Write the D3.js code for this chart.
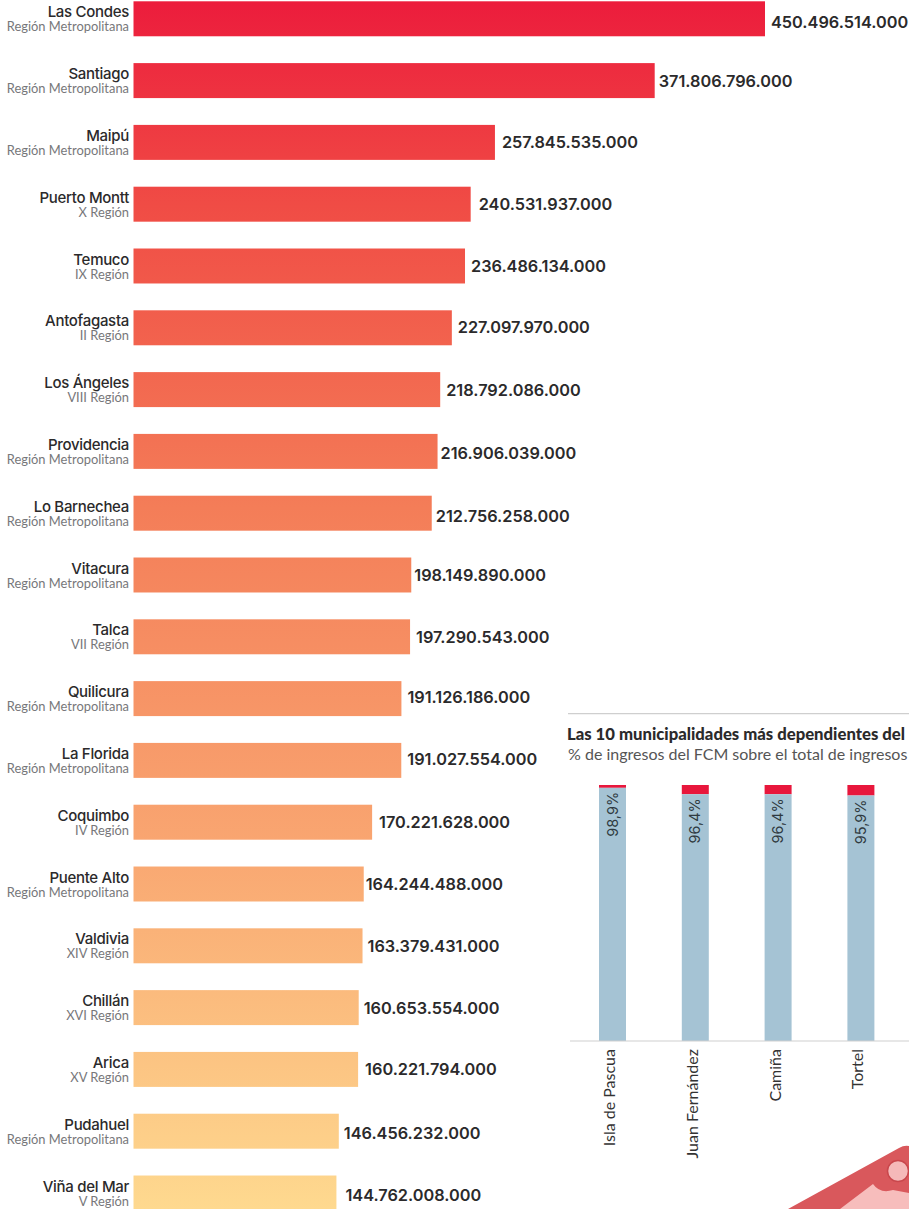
<!DOCTYPE html>
<html>
<head>
<meta charset="utf-8">
<script src="https://cdn.jsdelivr.net/npm/d3@7"></script>
<style>
  html, body { margin: 0; padding: 0; background: #fff; overflow: hidden; }
  svg { display: block; }
  text { font-family: Lato, "Open Sans", sans-serif; }
  .strong { font-family: Inter, Lato, sans-serif; }
</style>
</head>
<body>
<div id="chart"></div>
<script>
// ranking, in pesos
var communes = ["Las Condes", "Santiago", "Maipú", "Puerto Montt", "Temuco", "Antofagasta", "Los Ángeles", "Providencia", "Lo Barnechea", "Vitacura", "Talca", "Quilicura", "La Florida", "Coquimbo", "Puente Alto", "Valdivia", "Chillán", "Arica", "Pudahuel", "Viña del Mar"];
var regions = ["Región Metropolitana", "Región Metropolitana", "Región Metropolitana", "X Región", "IX Región", "II Región", "VIII Región", "Región Metropolitana", "Región Metropolitana", "Región Metropolitana", "VII Región", "Región Metropolitana", "Región Metropolitana", "IV Región", "Región Metropolitana", "XIV Región", "XVI Región", "XV Región", "Región Metropolitana", "V Región"];
var amounts = [450496514000, 371806796000, 257845535000, 240531937000, 236486134000, 227097970000, 218792086000, 216906039000, 212756258000, 198149890000, 197290543000, 191126186000, 191027554000, 170221628000, 164244488000, 163379431000, 160653554000, 160221794000, 146456232000, 144762008000];

// second chart: only these four fit in the frame
var dependent = ["Isla de Pascua", "Juan Fernández", "Camiña", "Tortel"];
var dependentPct = [98.9, 96.4, 96.4, 95.9];

// hand placement of the amount labels, the original is not regular
var labelGapX = [6, 4, 7, 8, 6, 6, 6, 3, 4, 3, 6, 6, 6, 7, 2, 5, 5, 7, 5, 9];
var labelGapY = [3, 0, 0, 0, 0, -1, 0, 2, 3, 0, 0, -2, -1, 0, 0, 0, 0, 0, 2, 2];

var width = 909, height = 1209;
var svg = d3.select("#chart").append("svg").attr("width", width).attr("height", height);

var nf = d3.formatLocale({ decimal: ",", thousands: ".", grouping: [3], currency: ["$", ""] }).format(",d");

// ---- main ranking
var x = d3.scaleLinear().domain([0, 450496514000]).range([133.5, 765]);
var y = d3.scaleBand().domain(communes).range([1.3, 1210.5]).paddingInner(0.434).paddingOuter(0);

var defs = svg.append("defs");
var grad = defs.append("linearGradient").attr("id", "rank")
  .attr("gradientUnits", "userSpaceOnUse").attr("x1", 0).attr("x2", 0).attr("y1", 0).attr("y2", 1209);
[[0, "#ec1c3c"], [0.17, "#f04c45"], [0.42, "#f47d58"], [0.7, "#f9a671"], [1, "#fed98f"]].forEach(function (s) {
  grad.append("stop").attr("offset", s[0]).attr("stop-color", s[1]);
});

var rows = svg.selectAll("g.row").data(communes).enter().append("g").attr("class", "row");

rows.append("rect")
  .attr("x", x(0))
  .attr("y", function (d) { return y(d); })
  .attr("width", function (d, i) { return x(amounts[i]) - x(0); })
  .attr("height", y.bandwidth())
  .attr("fill", "url(#rank)");

rows.append("text")
  .attr("class", "strong")
  .attr("x", 129)
  .attr("y", function (d) { return y(d) + 16; })
  .attr("text-anchor", "end")
  .attr("font-size", 15)
  .attr("font-weight", 500)
  .attr("letter-spacing", -0.3)
  .attr("fill", "#2b2a2b")
  .text(function (d) { return d; });

rows.append("text")
  .attr("x", 129)
  .attr("y", function (d) { return y(d) + 30; })
  .attr("text-anchor", "end")
  .attr("font-size", 12.9)
  .attr("fill", "#77777a")
  .text(function (d, i) { return regions[i]; });

rows.append("text")
  .attr("class", "strong")
  .attr("x", function (d, i) { return x(amounts[i]) + labelGapX[i]; })
  .attr("y", function (d, i) { return y(d) + y.bandwidth() / 2 + 6 + labelGapY[i]; })
  .attr("font-size", 16.3)
  .attr("font-weight", 600)
  .attr("fill", "#2b2a2b")
  .text(function (d, i) { return nf(amounts[i]); });

// ---- dependent municipalities
var bx = d3.scaleBand().domain(dependent).range([599, 874.4]).paddingInner(0.674).paddingOuter(0);
var by = d3.scaleLinear().domain([0, 100]).range([1041, 785]);

svg.append("line").attr("x1", 568).attr("x2", width).attr("y1", 713.7).attr("y2", 713.7)
  .attr("stroke", "#cfcfcf").attr("stroke-width", 1.2);

svg.append("text").attr("x", 567).attr("y", 740)
  .attr("font-size", 16.7).attr("font-weight", 900).attr("fill", "#2b2a2b")
  .text("Las 10 municipalidades más dependientes del");
svg.append("text").attr("x", 568).attr("y", 760)
  .attr("font-size", 16).attr("fill", "#555")
  .text("% de ingresos del FCM sobre el total de ingresos");

var cols = svg.selectAll("g.col").data(dependent).enter().append("g").attr("class", "col");

// red is what is left up to 100%
cols.append("rect")
  .attr("x", function (d) { return bx(d); })
  .attr("y", by(100))
  .attr("width", bx.bandwidth())
  .attr("height", function (d, i) { return by(dependentPct[i]) - by(100); })
  .attr("fill", "#e8173c");

cols.append("rect")
  .attr("x", function (d) { return bx(d); })
  .attr("y", function (d, i) { return by(dependentPct[i]); })
  .attr("width", bx.bandwidth())
  .attr("height", function (d, i) { return by(0) - by(dependentPct[i]); })
  .attr("fill", "#a5c3d4");

cols.append("text")
  .attr("class", "strong")
  .attr("transform", function (d, i) { return "translate(" + (bx(d) + 18.5) + "," + (by(dependentPct[i]) + 4) + ") rotate(-90)"; })
  .attr("text-anchor", "end")
  .attr("font-size", 14.5)
  .attr("fill", "#2f3a40")
  .text(function (d, i) { return String(dependentPct[i]).replace(".", ",") + "%"; });

cols.append("text")
  .attr("transform", function (d) { return "translate(" + (bx(d) + 16) + ",1049) rotate(-90)"; })
  .attr("text-anchor", "end")
  .attr("font-size", 16)
  .attr("fill", "#333")
  .text(function (d) { return d; });

svg.append("line").attr("x1", 570).attr("x2", width).attr("y1", 1041).attr("y2", 1041)
  .attr("stroke", "#cfcfcf").attr("stroke-width", 1.2);

// ---- corner of the illustration, bottom right
svg.append("path")
  .attr("d", "M788,1209 L899,1148 Q904,1145 909,1146 L909,1209 Z")
  .attr("fill", "#d9585c");
svg.append("path")
  .attr("d", "M840,1209 L873,1184 Q880,1194 893,1190 L909,1193 L909,1209 Z")
  .attr("fill", "#f7bdbc");
svg.append("circle").attr("cx", 898).attr("cy", 1171).attr("r", 10.5)
  .attr("fill", "#f5b9b9").attr("stroke", "#c9474c").attr("stroke-width", 1.5);
</script>
</body>
</html>
